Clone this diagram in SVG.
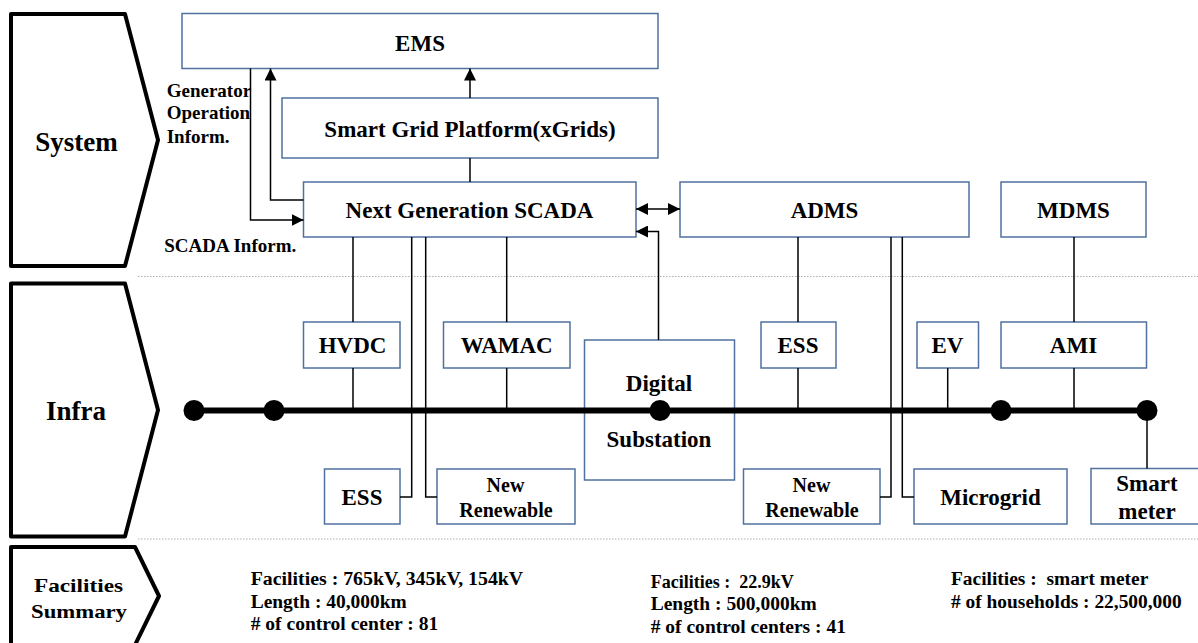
<svg xmlns="http://www.w3.org/2000/svg" width="1198" height="643" viewBox="0 0 1198 643" font-family="'Liberation Serif', 'DejaVu Serif', serif">
<style>
text{font-family:'Liberation Serif','DejaVu Serif',serif;font-weight:bold;fill:#000;white-space:pre}
.lbl{font-size:23px;text-anchor:middle}
.lbl20{font-size:20px;text-anchor:middle}
.side{font-size:27px;text-anchor:middle}
.ann{font-size:19px}
.fac{font-size:18px}
.box{fill:#fff;stroke:#50709f;stroke-width:1.5}
.chev{fill:#fff;stroke:#000;stroke-width:4;stroke-linejoin:round}
.sep{stroke:#b0b0b0;stroke-width:1.2;stroke-dasharray:1.5 1.5;fill:none}
.c{fill:none;stroke:#000;stroke-width:1.5}
.bus{stroke:#000;stroke-width:6;fill:none}
</style>
<defs>
<marker id="ah" markerUnits="userSpaceOnUse" markerWidth="12" markerHeight="12" refX="12" refY="6" orient="auto-start-reverse">
<path d="M0,0 L12,6 L0,12 Z" fill="#000"/>
</marker>
</defs>

<g id="sep">
<line class="sep" x1="138" y1="276.5" x2="1198" y2="276.5"/>
<line class="sep" x1="138" y1="539" x2="1198" y2="539"/>
</g>

<g id="side-system">
<path class="chev" d="M11,14 L125,14 L158,140 L125,266 L11,266 Z"/>
<text class="side" x="76.5" y="150.5">System</text>
</g>
<g id="side-infra">
<path class="chev" d="M11,283.5 L125,283.5 L158,410 L125,536.5 L11,536.5 Z"/>
<text class="side" x="76" y="419.5">Infra</text>
</g>
<g id="side-facilities">
<path class="chev" d="M11,547 L135,547 L159,596 L135,645 L11,645 Z"/>
<text x="34" y="591.5" style="font-size:19px" textLength="89" lengthAdjust="spacingAndGlyphs">Facilities</text>
<text x="31" y="617.5" style="font-size:19px" textLength="96" lengthAdjust="spacingAndGlyphs">Summary</text>
</g>

<g id="ems"><rect class="box" x="182" y="13.5" width="476" height="55"/><text class="lbl" x="420" y="51">EMS</text></g>
<g id="sgp"><rect class="box" x="282" y="98" width="376" height="60"/><text class="lbl" x="470" y="137">Smart Grid Platform(xGrids)</text></g>
<g id="scada"><rect class="box" x="303.5" y="182" width="332.5" height="55"/><text class="lbl" x="469.5" y="218">Next Generation SCADA</text></g>
<g id="adms"><rect class="box" x="680" y="182" width="289" height="55"/><text class="lbl" x="824.5" y="218">ADMS</text></g>
<g id="mdms"><rect class="box" x="1001" y="182" width="145" height="55"/><text class="lbl" x="1073.5" y="218">MDMS</text></g>

<g id="hvdc"><rect class="box" x="303.5" y="322" width="96.5" height="46"/><text class="lbl" x="352.5" y="353">HVDC</text></g>
<g id="wamac"><rect class="box" x="443.5" y="322" width="126.5" height="46"/><text class="lbl" x="506.7" y="353">WAMAC</text></g>
<g id="digital"><rect class="box" x="584.5" y="340" width="150" height="140"/><text class="lbl" x="659" y="390.5">Digital</text><text class="lbl" x="659" y="446.5">Substation</text></g>
<g id="ess-top"><rect class="box" x="761" y="322" width="75" height="46"/><text class="lbl" x="798" y="353">ESS</text></g>
<g id="ev"><rect class="box" x="917" y="322" width="61.5" height="46"/><text class="lbl" x="947.5" y="353">EV</text></g>
<g id="ami"><rect class="box" x="1001" y="322" width="145.5" height="46"/><text class="lbl" x="1073.5" y="353">AMI</text></g>

<g id="ess-bottom"><rect class="box" x="324.5" y="469" width="75.5" height="55"/><text class="lbl" x="362" y="505">ESS</text></g>
<g id="newren-left"><rect class="box" x="437" y="469" width="138" height="55"/><text class="lbl20" x="505.5" y="491.5">New</text><text class="lbl20" x="506" y="516.5">Renewable</text></g>
<g id="newren-right"><rect class="box" x="743.5" y="469" width="136.5" height="55"/><text class="lbl20" x="811.5" y="491.5">New</text><text class="lbl20" x="812" y="516.5">Renewable</text></g>
<g id="microgrid"><rect class="box" x="914" y="469" width="153" height="55"/><text class="lbl" x="990.5" y="505">Microgrid</text></g>
<g id="smartmeter"><rect class="box" x="1091" y="468.5" width="112" height="55.5"/><text class="lbl" x="1147" y="491">Smart</text><text class="lbl" x="1147" y="519">meter</text></g>

<g id="connectors">
<path class="c" d="M303.5,200 H270.5 V68.5" marker-end="url(#ah)"/>
<path class="c" d="M250.5,68.5 V220 H303.5" marker-end="url(#ah)"/>
<path class="c" d="M470,98 V68.5" marker-end="url(#ah)"/>
<path class="c" d="M470,158 V182"/>
<path class="c" d="M636,209 H680" marker-start="url(#ah)" marker-end="url(#ah)"/>
<path class="c" d="M658.5,340 V231.5 H636" marker-end="url(#ah)"/>
<path class="c" d="M353,237 V322 M353,368 V410"/>
<path class="c" d="M411.7,237 V497 H400"/>
<path class="c" d="M425.7,237 V497 H437"/>
<path class="c" d="M506.7,237 V322 M506.7,368 V410"/>
<path class="c" d="M798,237 V322 M798,368 V410"/>
<path class="c" d="M891,237 V497 H880"/>
<path class="c" d="M902.3,237 V497 H914"/>
<path class="c" d="M947.7,368 V410"/>
<path class="c" d="M1074,237 V322 M1074,368 V410"/>
<path class="c" d="M1147,410 V468.5"/>
</g>

<g id="bus">
<line class="bus" x1="194" y1="410.5" x2="1147" y2="410.5"/>
<circle cx="194" cy="410.5" r="10.5"/>
<circle cx="274" cy="410.5" r="10.5"/>
<circle cx="660" cy="410.5" r="10.5"/>
<circle cx="1001" cy="410.5" r="10.5"/>
<circle cx="1147" cy="410.5" r="10.5"/>
</g>

<g id="annotations">
<text class="ann" x="166.7" y="96.7">Generator</text>
<text class="ann" x="166.7" y="119">Operation</text>
<text class="ann" x="166.7" y="142.7">Inform.</text>
<text class="ann" x="164.3" y="252.3">SCADA Inform.</text>
</g>

<g id="facilities">
<text class="fac" x="250.7" y="585" textLength="272.5" lengthAdjust="spacingAndGlyphs">Facilities : 765kV, 345kV, 154kV</text>
<text class="fac" x="250.7" y="607.5" textLength="156" lengthAdjust="spacingAndGlyphs">Length : 40,000km</text>
<text class="fac" x="250.7" y="630" textLength="187.5" lengthAdjust="spacingAndGlyphs"># of control center : 81</text>
<text class="fac" x="650.7" y="587.5" textLength="143" lengthAdjust="spacingAndGlyphs">Facilities :  22.9kV</text>
<text class="fac" x="650.7" y="610" textLength="166" lengthAdjust="spacingAndGlyphs">Length : 500,000km</text>
<text class="fac" x="650.7" y="632.7" textLength="195.3" lengthAdjust="spacingAndGlyphs"># of control centers : 41</text>
<text class="fac" x="951" y="585" textLength="197.3" lengthAdjust="spacingAndGlyphs">Facilities :  smart meter</text>
<text class="fac" x="951" y="607.5" textLength="230.7" lengthAdjust="spacingAndGlyphs"># of households : 22,500,000</text>
</g>
</svg>
